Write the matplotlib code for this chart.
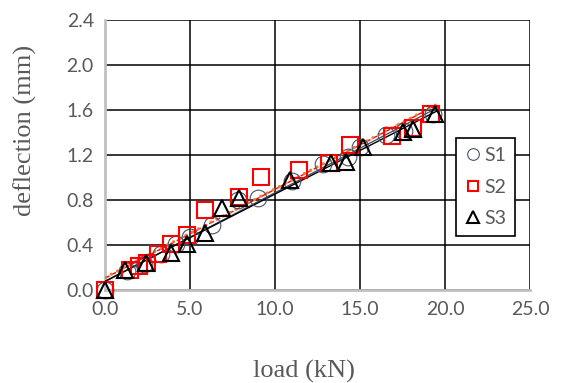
import numpy as np
import matplotlib.pyplot as plt

s1_load = [0.0, 1.3, 2.3, 3.3, 4.2, 5.0, 6.3, 7.8, 9.0, 11.0, 12.8, 14.3, 15.0, 16.5, 17.6, 19.3]
s1_defl = [0.0, 0.17, 0.23, 0.32, 0.41, 0.47, 0.58, 0.80, 0.82, 0.97, 1.12, 1.18, 1.27, 1.38, 1.41, 1.56]

s2_load = [0.0, 1.5, 2.0, 2.5, 3.1, 3.9, 4.8, 5.9, 7.9, 9.2, 11.4, 13.2, 14.4, 16.9, 18.1, 19.2]
s2_defl = [0.0, 0.18, 0.21, 0.24, 0.32, 0.41, 0.49, 0.71, 0.83, 1.00, 1.07, 1.13, 1.29, 1.37, 1.44, 1.56]

s3_load = [0.0, 1.2, 2.4, 3.9, 4.8, 5.9, 6.9, 7.9, 10.9, 13.3, 14.2, 15.2, 17.5, 18.1, 19.4]
s3_defl = [0.0, 0.18, 0.24, 0.33, 0.41, 0.51, 0.73, 0.82, 0.98, 1.13, 1.14, 1.27, 1.40, 1.43, 1.56]

xticks = [0, 5, 10, 15, 20, 25]
yticks = [0.0, 0.4, 0.8, 1.2, 1.6, 2.0, 2.4]

fig = plt.figure(figsize=(5.61, 3.83), dpi=100)
ax = fig.add_axes([0.187, 0.243, 0.758, 0.705])

ax.set_xlim(0, 25)
ax.set_ylim(0, 2.4)
ax.set_xticks(xticks)
ax.set_yticks(yticks)
ax.set_xticklabels(['%.1f' % t for t in xticks])
ax.set_yticklabels(['%.1f' % t for t in yticks])
ax.grid(True, color='black', linewidth=1.1)
ax.set_axisbelow(True)
for s in ['top', 'right']:
    ax.spines[s].set_visible(False)
for s in ['left', 'bottom']:
    ax.spines[s].set_color('#c0c0c0')
    ax.spines[s].set_linewidth(2)
ax.tick_params(length=0, labelsize=14, colors='#595959', pad=8)
for lab in ax.get_xticklabels() + ax.get_yticklabels():
    lab.set_family('Lato')

# trend lines
xs = np.array([0.0, 19.5])
for lx, ly, st in [(s1_load, s1_defl, dict(color='#44546a', lw=1.0, ls='-')),
                   (s2_load, s2_defl, dict(color='#ff0000', lw=1.0, ls='--')),
                   (s3_load, s3_defl, dict(color='black', lw=1.0, ls='-'))]:
    k, b = np.polyfit(lx, ly, 1)
    ax.plot(xs, k * xs + b, zorder=3, **st)
k, b = np.polyfit(s1_load + s2_load, s1_defl + s2_defl, 1)
ax.plot(xs, k * xs + b + 0.02, color='#ed7d31', lw=2.2, ls=(0, (0.1, 2.2)),
        dash_capstyle='round', zorder=3)

ax.plot(s1_load, s1_defl, 'o', ms=12, mfc='none', mec='#44546a', mew=0.8,
        ls='none', label='S1', zorder=4, clip_on=False)
ax.plot(s2_load, s2_defl, 's', ms=11, mfc='none', mec='#ff0000', mew=1.5,
        ls='none', label='S2', zorder=4, clip_on=False)
ax.plot(s3_load, s3_defl, '^', ms=12, mfc='none', mec='black', mew=1.5,
        ls='none', label='S3', zorder=5, clip_on=False)

leg = ax.legend(loc='upper left', bbox_to_anchor=(0.826, 0.562), frameon=True,
                fancybox=False, edgecolor='black', framealpha=1,
                prop={'family': 'Lato', 'size': 14}, labelcolor='#595959',
                handlelength=0.8, handletextpad=0.2, labelspacing=0.75,
                borderpad=0.45, borderaxespad=0, markerscale=0.7)
leg.get_frame().set_linewidth(1.2)

fig.text(304 / 561, 1 - 371 / 383, 'load (kN)', family='Liberation Serif',
         size=19, color='#595959', ha='center', va='center')
fig.text(25 / 561, 1 - 130 / 383, 'deflection (mm)', family='Liberation Serif',
         size=19, color='#595959', ha='center', va='center', rotation=90)

fig.savefig('out.png', dpi=100)
